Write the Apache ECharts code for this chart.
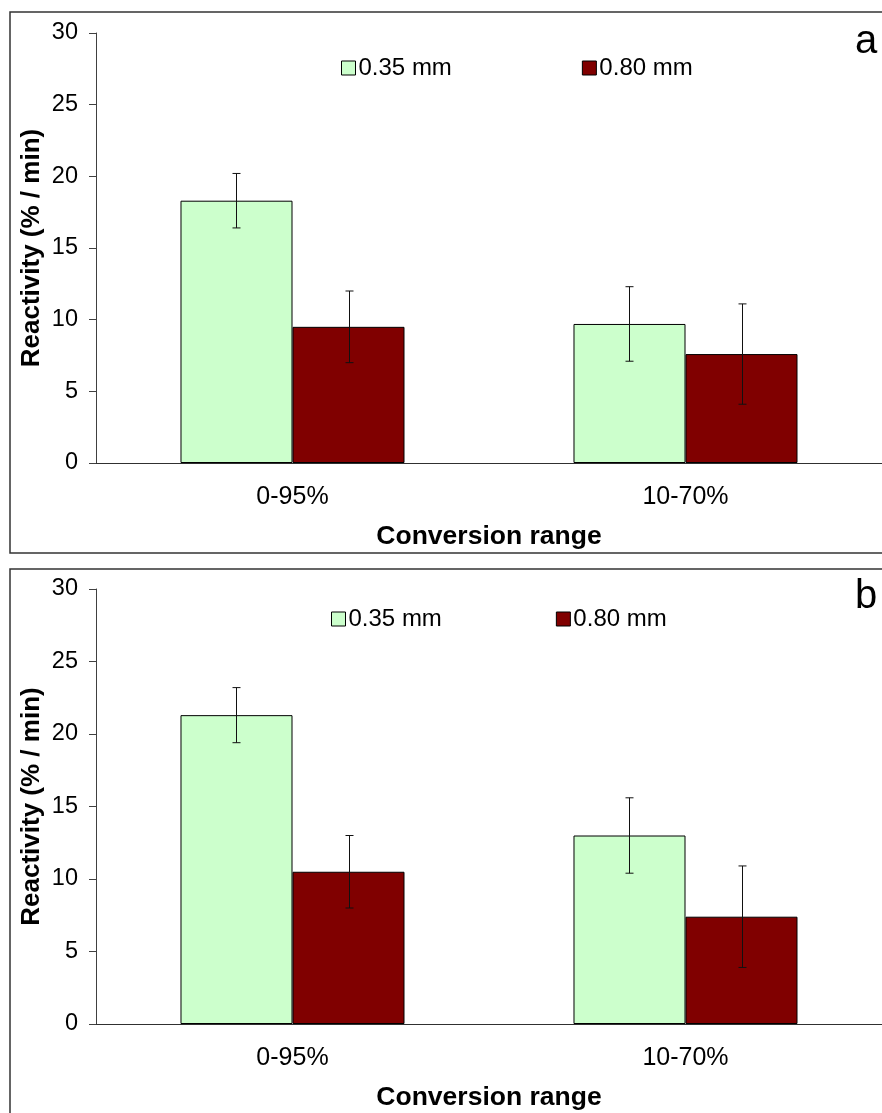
<!DOCTYPE html>
<html>
<head>
<meta charset="utf-8">
<script src="https://cdn.jsdelivr.net/npm/echarts@6/dist/echarts.min.js"></script>
<style>html,body{margin:0;padding:0;background:#fff;}#c{width:882px;height:1113px;}</style>
</head>
<body>
<div id="c"></div>
<script>
const categories = ['0-95%', '10-70%'];
const seriesNames = ['0.35 mm', '0.80 mm'];
// Panel a
const a035 = [18.3, 9.7];
const a080 = [9.5, 7.6];
const aErr035 = [1.9, 2.6];
const aErr080 = [2.5, 3.5];
// Panel b
const b035 = [21.3, 13.0];
const b080 = [10.5, 7.4];
const bErr035 = [1.9, 2.6];
const bErr080 = [2.5, 3.5];
const yTicks = [0, 5, 10, 15, 20, 25, 30];

const FONT = 'Liberation Sans, Arial, sans-serif';
const GREEN = '#CCFFCC', RED = '#800000';
const BAR_FRAC = 0.285;

function errData(vals, errs) {
  return vals.map((v, i) => [i, v - errs[i], v + errs[i]]);
}
function errSeries(idx, data, dir) {
  return {
    type: 'custom', xAxisIndex: idx, yAxisIndex: idx, z: 10, silent: true,
    data: data,
    renderItem: function (params, api) {
      const cw = api.size([1, 0])[0];
      const c = api.coord([api.value(0), api.value(1)]);
      const t = api.coord([api.value(0), api.value(2)]);
      const x = Math.round(c[0] + dir * cw * BAR_FRAC / 2) + 0.5;
      const lo = c[1], hi = t[1], w = 4;
      const st = { stroke: '#111', lineWidth: 1 };
      return { type: 'group', children: [
        { type: 'line', shape: { x1: x, y1: lo, x2: x, y2: hi }, style: st },
        { type: 'line', shape: { x1: x - w, y1: lo, x2: x + w, y2: lo }, style: st },
        { type: 'line', shape: { x1: x - w, y1: hi, x2: x + w, y2: hi }, style: st }
      ]};
    }
  };
}
function barSeries(idx, name, vals, color) {
  return {
    type: 'bar', name: name, xAxisIndex: idx, yAxisIndex: idx,
    data: vals, barGap: '0%', barCategoryGap: '43%',
    itemStyle: { color: color, borderColor: '#000', borderWidth: 1 }
  };
}
function xAxis(idx) {
  return {
    type: 'category', gridIndex: idx, data: categories,
    axisLine: { lineStyle: { color: '#303030', width: 1 } },
    axisTick: { length: 7, lineStyle: { color: '#303030' } },
    axisLabel: { color: '#000', fontSize: 25, fontFamily: FONT, margin: 22 },
    name: 'Conversion range', nameLocation: 'middle', nameGap: 60, nameMoveOverlap: false,
    nameTextStyle: { color: '#000', fontSize: 26.5, fontWeight: 'bold', fontFamily: FONT }
  };
}
function yAxis(idx) {
  return {
    type: 'value', gridIndex: idx, min: yTicks[0], max: yTicks[yTicks.length - 1], interval: 5,
    splitLine: { show: false },
    axisLine: { show: true, lineStyle: { color: '#404040', width: 1 } },
    axisTick: { show: true, length: 7, lineStyle: { color: '#404040' } },
    axisLabel: { color: '#000', fontSize: 23.5, fontFamily: FONT, margin: 18 },
    name: 'Reactivity (% / min)', nameLocation: 'middle', nameGap: 51, nameMoveOverlap: false,
    nameTextStyle: { color: '#000', fontSize: 26, fontWeight: 'bold', fontFamily: FONT }
  };
}
function legend(idx, left, top, gap) {
  return {
    data: seriesNames.map(n => ({ name: n })), left: left, top: top, itemGap: gap,
    itemWidth: 14, itemHeight: 14, icon: 'rect', itemStyle: { borderColor: '#000', borderWidth: 1 },
    textStyle: { color: '#000', fontSize: 24, fontFamily: FONT, padding: [0, 0, 0, -2] },
    selectedMode: false
  };
}

const chart = echarts.init(document.getElementById('c'), null, { renderer: 'canvas' });
chart.setOption({
  animation: false,
  backgroundColor: '#fff',
  grid: [
    { left: 96, top: 33, width: 792, height: 430 },
    { left: 96, top: 589, width: 792, height: 435 }
  ],
  xAxis: [xAxis(0), xAxis(1)],
  yAxis: [yAxis(0), yAxis(1)],
  legend: [legend(0, 336, 51, 130), legend(1, 326, 602, 114)],
  graphic: [
    { type: 'rect', shape: { x: 10, y: 12, width: 900, height: 541 }, style: { fill: 'none', stroke: '#333', lineWidth: 1.5 }, z: -1 },
    { type: 'rect', shape: { x: 10, y: 569, width: 900, height: 600 }, style: { fill: 'none', stroke: '#333', lineWidth: 1.5 }, z: -1 },
    { type: 'text', left: 855, top: 22, style: { text: 'a', fontSize: 40, fontFamily: FONT, fill: '#000' } },
    { type: 'text', left: 855, top: 577, style: { text: 'b', fontSize: 40, fontFamily: FONT, fill: '#000' } }
  ],
  series: [
    barSeries(0, seriesNames[0], a035, GREEN),
    barSeries(0, seriesNames[1], a080, RED),
    barSeries(1, seriesNames[0], b035, GREEN),
    barSeries(1, seriesNames[1], b080, RED),
    errSeries(0, errData(a035, aErr035), -1),
    errSeries(0, errData(a080, aErr080), 1),
    errSeries(1, errData(b035, bErr035), -1),
    errSeries(1, errData(b080, bErr080), 1)
  ]
});
</script>
</body>
</html>
